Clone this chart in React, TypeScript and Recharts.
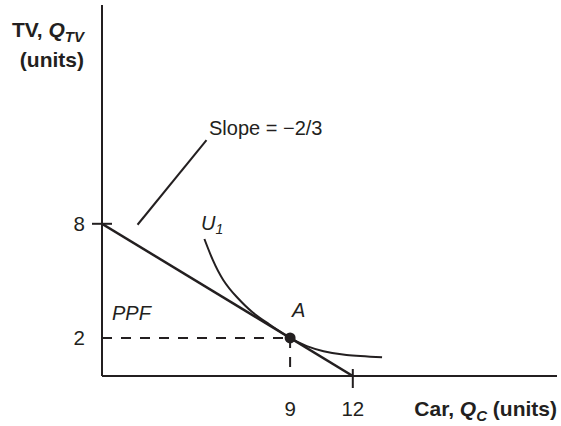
import { ComposedChart, Line, Scatter, XAxis, YAxis, ReferenceLine } from 'recharts'

// budget line (PPF) end points: 8 TVs or 12 cars
const ppfX = [0, 12]
const ppfY = [8, 0]

// indifference curve U1, tangent to the PPF at A
const u1X = [4.9, 5.3, 5.8, 6.45, 7.2, 8.0, 9, 9.8, 10.6, 11.7, 13.4]
const u1Y = [7.2, 6.1, 5.05, 4.15, 3.35, 2.72, 2, 1.57, 1.3, 1.1, 0.98]

// optimum A
const pointA = { x: 9, y: 2 }

const xTicks = [9, 12]
const yTicks = [2, 8]

// leader line from the slope note to the PPF
const slopeLeader = [
  { x: 1.7, y: 7.95 },
  { x: 5.0, y: 12.4 },
]

const ppf = ppfX.map((x, i) => ({ x, y: ppfY[i] }))
const u1 = u1X.map((x, i) => ({ x, y: u1Y[i] }))
const dashH = [
  { x: 0, y: pointA.y },
  { x: pointA.x, y: pointA.y },
]
const dashV = [
  { x: pointA.x, y: pointA.y },
  { x: pointA.x, y: 0 },
]

const INK = '#231f20'
const FONT = '"Liberation Sans", Arial, Helvetica, sans-serif'

function YTick(props: any) {
  const { x, y, payload } = props
  const axisX = x + 8
  return (
    <g>
      {payload.value === 8 && (
        <line x1={axisX - 10} x2={axisX + 10} y1={y} y2={y} stroke={INK} strokeWidth={2} />
      )}
      <text x={axisX - 17} y={y} dy={7.5} textAnchor="end" fontSize={20.5} fill={INK} fontFamily={FONT}>
        {payload.value}
      </text>
    </g>
  )
}

function XTick(props: any) {
  const { x, y, payload } = props
  const axisY = y - 8
  return (
    <g>
      {payload.value === 12 && (
        <line x1={x} x2={x} y1={axisY - 7} y2={axisY + 12} stroke={INK} strokeWidth={2} />
      )}
      <text x={x} y={axisY + 40} textAnchor="middle" fontSize={20.5} fill={INK} fontFamily={FONT}>
        {payload.value}
      </text>
    </g>
  )
}

export default function App() {
  return (
    <div style={{ position: 'relative', width: 561, height: 426, background: '#fff' }}>
      <style>{'body{margin:0}'}</style>
      <ComposedChart width={561} height={426} margin={{ top: 5, right: 4, bottom: 20, left: 72 }}>
        <XAxis
          type="number"
          dataKey="x"
          domain={[0, 21.77]}
          ticks={xTicks}
          height={30}
          tickLine={false}
          tick={<XTick />}
          axisLine={{ stroke: INK, strokeWidth: 2 }}
          allowDataOverflow
        />
        <YAxis
          type="number"
          dataKey="y"
          domain={[0, 19.5]}
          ticks={yTicks}
          width={30}
          tickLine={false}
          tick={<YTick />}
          axisLine={{ stroke: INK, strokeWidth: 2 }}
          allowDataOverflow
        />
        <ReferenceLine segment={slopeLeader} stroke={INK} strokeWidth={2} ifOverflow="visible" />
        <Line data={dashH} dataKey="y" stroke={INK} strokeWidth={2} strokeDasharray="10 9" dot={false} isAnimationActive={false} />
        <Line data={dashV} dataKey="y" stroke={INK} strokeWidth={2} strokeDasharray="10 9" dot={false} isAnimationActive={false} />
        <Line data={ppf} dataKey="y" stroke={INK} strokeWidth={2.5} dot={false} isAnimationActive={false} />
        <Line data={u1} dataKey="y" type="natural" stroke={INK} strokeWidth={2} dot={false} isAnimationActive={false} />
        <Scatter data={[pointA]} dataKey="y" fill={INK} shape={(p: any) => <circle cx={p.cx} cy={p.cy} r={5.5} fill={INK} />} isAnimationActive={false} />
      </ComposedChart>
      <svg width={561} height={426} style={{ position: 'absolute', left: 0, top: 0, pointerEvents: 'none' }} fontFamily={FONT} fill={INK}>
        <text x={84} y={37} textAnchor="end" fontSize={21} fontWeight="bold">
          TV,{' '}
          <tspan fontStyle="italic">Q</tspan>
          <tspan fontStyle="italic" fontSize={15} dy={5}>TV</tspan>
        </text>
        <text x={84} y={67} textAnchor="end" fontSize={21} fontWeight="bold">(units)</text>
        <text x={209} y={135} fontSize={20}>Slope = −2/3</text>
        <text x={201} y={230} fontSize={20} fontStyle="italic">
          U<tspan fontSize={14} dy={4}>1</tspan>
        </text>
        <text x={292} y={317} fontSize={20} fontStyle="italic">A</text>
        <text x={112} y={320} fontSize={20} fontStyle="italic">PPF</text>
        <text x={557} y={416} textAnchor="end" fontSize={21} fontWeight="bold">
          Car,{' '}
          <tspan fontStyle="italic">Q</tspan>
          <tspan fontStyle="italic" fontSize={15} dy={5}>C</tspan>
          <tspan dy={-5}> (units)</tspan>
        </text>
      </svg>
    </div>
  )
}
